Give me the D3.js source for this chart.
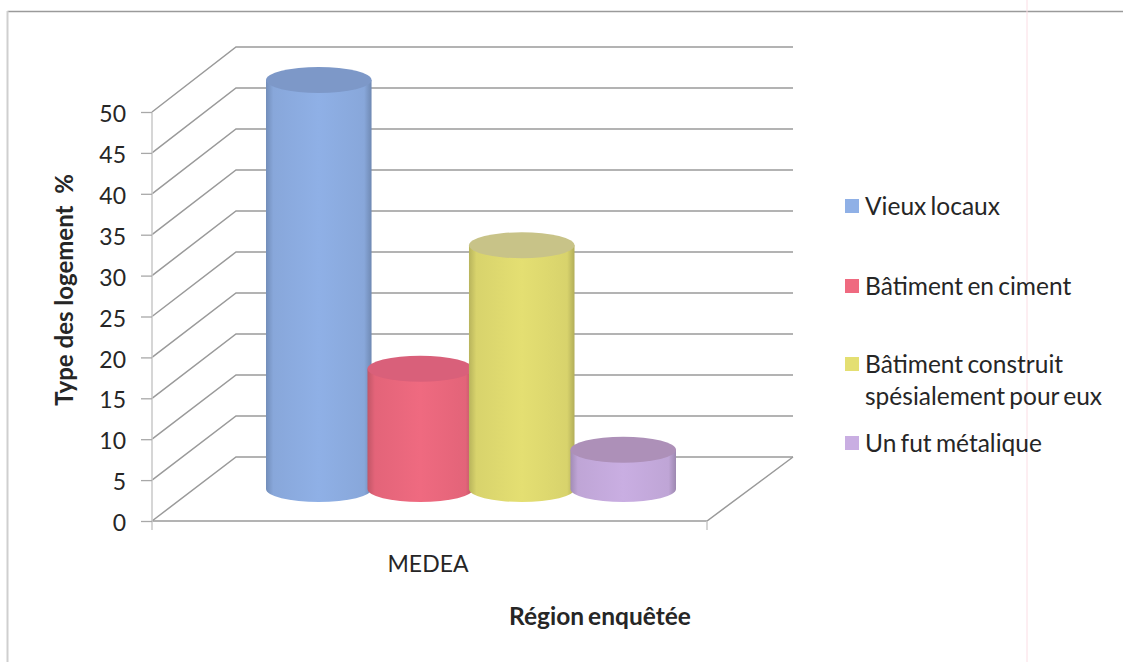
<!DOCTYPE html>
<html lang="fr">
<head>
<meta charset="utf-8">
<title>Type des logement</title>
<script src="https://cdnjs.cloudflare.com/ajax/libs/d3/7.8.5/d3.min.js"></script>
<style>
  html, body { margin: 0; padding: 0; background: #fff; }
  svg { display: block; }
  text { font-family: Lato, "Open Sans", sans-serif; fill: #262626; }
</style>
</head>
<body>
<svg id="chart" width="1123" height="662"></svg>
<script>
// Chart content
const category = "MEDEA";
const seriesNames = ["Vieux locaux", "Bâtiment en ciment", "Bâtiment construit|spésialement pour eux", "Un fut métalique"];
const seriesValues = [50, 14.7, 29.8, 4.8];
const seriesColors = ["#8fb0e6", "#ef6a80", "#e4df72", "#c9aee2"];
const capColors = ["#7d98c8", "#d9607a", "#c8c388", "#ad90b8"];
const valueTicks = [0, 5, 10, 15, 20, 25, 30, 35, 40, 45, 50];
const yAxisTitle = "Type des logement  %";
const xAxisTitle = "Région enquêtée";

const svg = d3.select("#chart");
const defs = svg.append("defs");

// Outer frame of the chart area
svg.append("line").attr("x1", 7.5).attr("x2", 1123).attr("y1", 11.5).attr("y2", 11.5)
  .attr("stroke", "#9a9a9a").attr("stroke-width", 1.5);
svg.append("line").attr("x1", 7.5).attr("x2", 7.5).attr("y1", 11).attr("y2", 662)
  .attr("stroke", "#cfcfcf").attr("stroke-width", 2);
svg.append("line").attr("x1", 1027).attr("x2", 1027).attr("y1", 0).attr("y2", 662)
  .attr("stroke", "#fbdde4").attr("stroke-width", 1);

// Oblique 3D frame: front plane, back wall, and the depth the columns sit at
const yFront = d3.scaleLinear().domain([0, 50]).range([521, 112]);
const yBack = d3.scaleLinear().domain([0, 50]).range([457, 47]);
const yMid = d3.scaleLinear().domain([0, 50]).range([489, 80]);
const xFront = d3.scaleLinear().domain([0, 1]).range([152, 707]);
const depthX = 84;
const backRight = 793;

const gridColor = "#9a9a9a";
const grid = svg.append("g").attr("fill", "none").attr("stroke", gridColor).attr("stroke-width", 1.5);

grid.selectAll("path.wall").data(valueTicks).join("path").attr("class", "wall")
  .attr("d", v => `M${xFront(0)},${yFront(v)}L${xFront(0) + depthX},${yBack(v)}H${backRight}`);

// Floor edges and front axis
grid.append("path").attr("d",
  `M${xFront(0)},${yFront(0)}H${xFront(1)}L${backRight},${yBack(0)}`);
grid.append("line").attr("x1", xFront(0)).attr("x2", xFront(0))
  .attr("y1", yFront(50)).attr("y2", yFront(0) + 9).attr("stroke", "#c8c8c8");
grid.append("line").attr("x1", xFront(1)).attr("x2", xFront(1))
  .attr("y1", yFront(0)).attr("y2", yFront(0) + 9).attr("stroke", "#c8c8c8");

// Value axis labels and ticks
const axis = d3.axisLeft(yFront).tickValues(valueTicks).tickSize(11).tickPadding(15);
const axisG = svg.append("g").attr("transform", `translate(${xFront(0)},0)`).call(axis);
axisG.select(".domain").remove();
axisG.selectAll("line").attr("stroke", "#a8a8a8").attr("stroke-width", 1.3);
axisG.selectAll("text").attr("font-size", 23).attr("fill", "#262626")
  .attr("dy", "0.42em")
  .style("font-family", "Lato, sans-serif");

// Cylinders: horizontal shading on the side, darker cap on top
const band = d3.scaleBand().domain(seriesNames).range([266, 676]).paddingInner(-0.04);
const ry = 13;

seriesColors.forEach((c, i) => {
  const base = d3.color(c);
  const g = defs.append("linearGradient").attr("id", `side${i}`)
    .attr("x1", 0).attr("x2", 1).attr("y1", 0).attr("y2", 0);
  [[0, base.darker(0.6)], [0.07, base.darker(0.15)], [0.5, base], [0.93, base.darker(0.15)],
   [1, base.darker(0.7)]].forEach(([o, col]) =>
    g.append("stop").attr("offset", o).attr("stop-color", col));
});

const cyl = svg.append("g").selectAll("g").data(seriesNames.map((name, i) => ({
  name, value: seriesValues[i], color: seriesColors[i], cap: capColors[i], i
}))).join("g");

cyl.append("path")
  .attr("fill", d => `url(#side${d.i})`)
  .attr("d", d => {
    const x0 = band(d.name), w = band.bandwidth(), rx = w / 2;
    return `M${x0},${yMid(d.value)}V${yMid(0)}A${rx},${ry} 0 0 0 ${x0 + w},${yMid(0)}V${yMid(d.value)}Z`;
  });
cyl.append("ellipse")
  .attr("cx", d => band(d.name) + band.bandwidth() / 2)
  .attr("cy", d => yMid(d.value))
  .attr("rx", band.bandwidth() / 2)
  .attr("ry", ry)
  .attr("fill", d => d.cap);

// Category and axis titles
svg.append("text").attr("x", 428).attr("y", 572).attr("text-anchor", "middle")
  .attr("font-size", 23).text(category);
svg.append("text").attr("x", 600).attr("y", 625).attr("text-anchor", "middle")
  .attr("font-size", 24.5).attr("font-weight", 700).attr("word-spacing", -2).text(xAxisTitle);
svg.append("text").attr("transform", "translate(73,290) rotate(-90)")
  .attr("text-anchor", "middle").attr("font-size", 24).attr("font-weight", 700)
  .style("white-space", "pre").text(yAxisTitle);

// Legend
const legendY = [206, 286, 364, 443];
const legend = svg.append("g").selectAll("g").data(seriesNames).join("g")
  .attr("transform", (d, i) => `translate(845,${legendY[i]})`);
legend.append("rect").attr("x", 0).attr("y", -7).attr("width", 14).attr("height", 14)
  .attr("fill", (d, i) => seriesColors[i]);
legend.append("text").attr("font-size", 24.5).attr("word-spacing", -2).each(function (d) {
  const lines = d.split("|");
  d3.select(this).selectAll("tspan").data(lines).join("tspan")
    .attr("x", 20).attr("y", (l, j) => 9 + j * 32).text(l => l);
});
</script>
</body>
</html>
